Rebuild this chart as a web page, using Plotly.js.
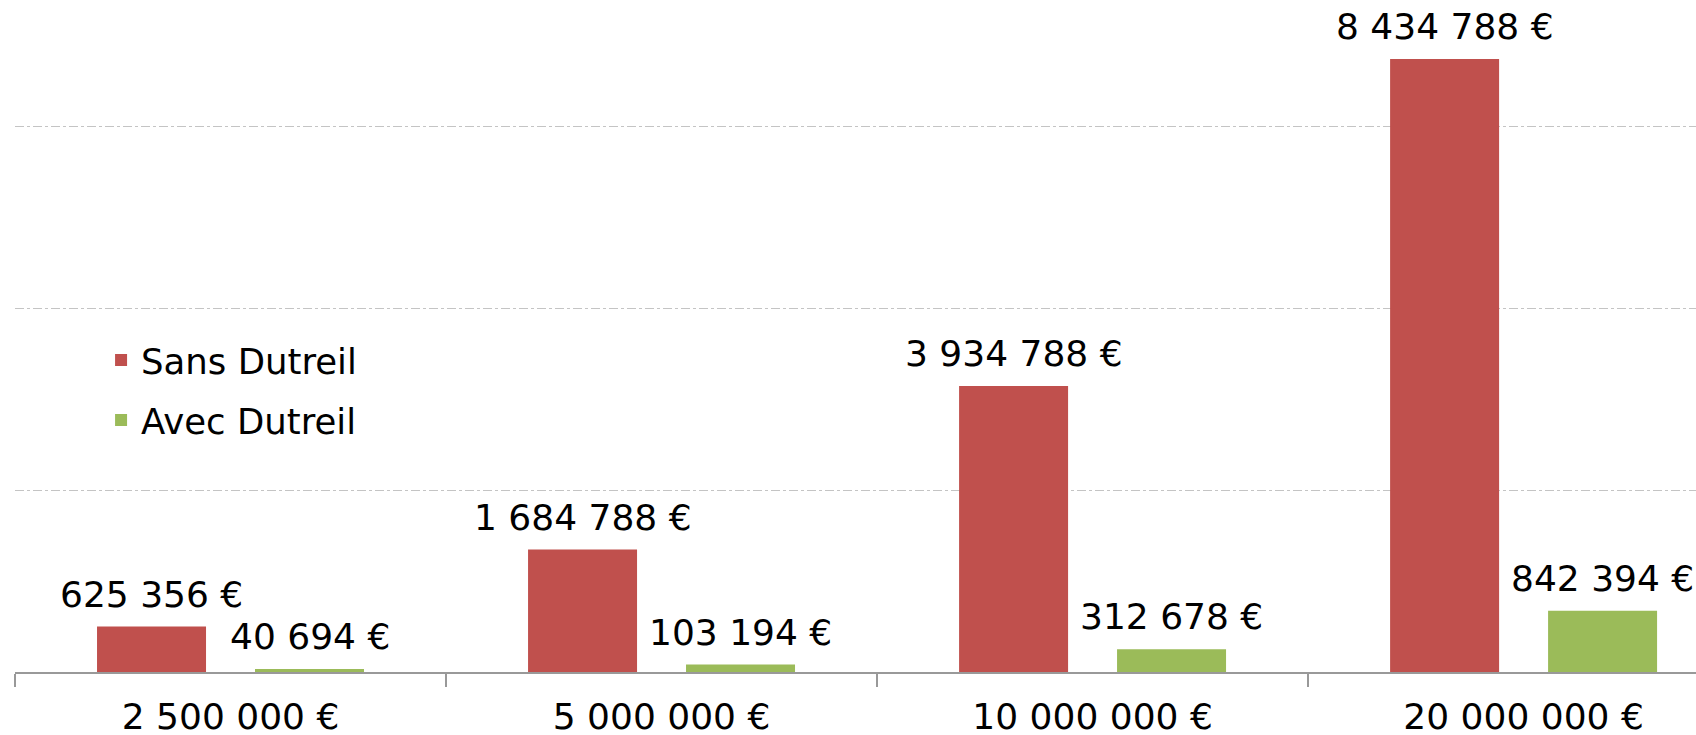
<!DOCTYPE html>
<html>
<head>
<meta charset="utf-8">
<script src="https://cdn.plot.ly/plotly-3.0.1.min.js"></script>
<style>html,body{margin:0;padding:0;background:#fff;}#chart{width:1696px;height:735px;}</style>
</head>
<body>
<div id="chart"></div>
<script>
const categories = ["2 500 000 €", "5 000 000 €", "10 000 000 €", "20 000 000 €"];
const sansDutreil = [625356, 1684788, 3934788, 8434788];
const avecDutreil = [40694, 103194, 312678, 842394];
const seriesNames = ["Sans Dutreil", "Avec Dutreil"];
const seriesColors = ["#C0504D", "#9BBB59"];

function fmt(v) {
  return String(v).replace(/\B(?=(\d{3})+(?!\d))/g, " ") + " €";
}

const FONT = "DejaVu Sans, Verdana, sans-serif";

const traces = [sansDutreil, avecDutreil].map((vals, i) => ({
  type: "bar",
  name: seriesNames[i],
  legendgroup: "g" + i,
  x: categories,
  y: vals,
  marker: {color: seriesColors[i], line: {width: 0}},
  hoverinfo: "x+y"
}));

const annotations = [];
[sansDutreil, avecDutreil].forEach((vals, i) => {
  vals.forEach((v, j) => {
    annotations.push({
      x: categories[j], y: v, xref: "x", yref: "y",
      text: fmt(v), showarrow: false,
      xanchor: "center", yanchor: "bottom",
      xshift: i === 0 ? -79 : 79, yshift: 10,
      font: {family: FONT, size: 36, color: "#000"}
    });
  });
});

const layout = {
  width: 1696, height: 735,
  margin: {l: 15, r: 0, t: 0, b: 63, pad: 0},
  paper_bgcolor: "#fff", plot_bgcolor: "#fff",
  barmode: "group", bargap: 0.267, bargroupgap: 0.31,
  font: {family: FONT, size: 36, color: "#000"},
  xaxis: {
    type: "category",
    range: [-0.5, 3.4],
    showline: true, linecolor: "#999999", linewidth: 1.5,
    ticks: "outside", tickson: "boundaries", ticklen: 13, tickcolor: "#999999", tickwidth: 1.5,
    showgrid: false, zeroline: false,
    tickfont: {family: FONT, size: 36, color: "#000"},
    ticklabelstandoff: 12
  },
  yaxis: {
    range: [0, 9246000],
    tickvals: [2500000, 5000000, 7500000],
    showticklabels: false,
    showgrid: true, gridcolor: "#c4c4c4", gridwidth: 1, griddash: "dashdot",
    zeroline: false, showline: false, ticks: ""
  },
  showlegend: true,
  legend: {
    x: 0.0512, y: 0.5084, xanchor: "left", yanchor: "top",
    bgcolor: "rgba(0,0,0,0)",
    font: {family: FONT, size: 35.5, color: "#000"},
    traceorder: "grouped", tracegroupgap: 11
  },
  annotations: annotations
};

Plotly.newPlot("chart", traces, layout, {displayModeBar: false, staticPlot: true});
</script>
</body>
</html>
